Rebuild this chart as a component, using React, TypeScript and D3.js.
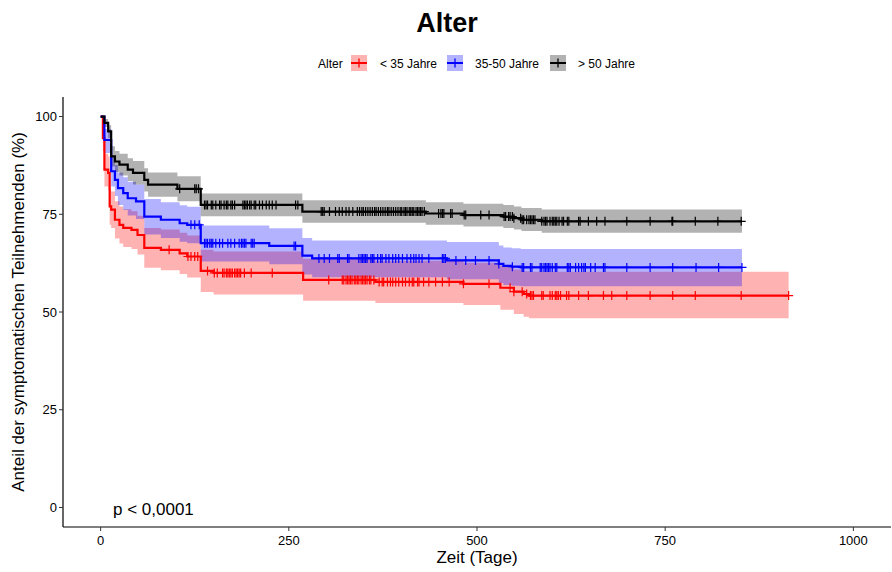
import React from 'react';
import * as d3 from 'd3';

// Kaplan-Meier estimates (time in days, survival in %)
const groups = ['< 35 Jahre', '35-50 Jahre', '> 50 Jahre'];
const colors = ['#FF0000', '#0000FF', '#000000'];

const redTimes = [0, 3, 5, 10, 12, 14, 19, 25, 30, 41, 49, 58, 80, 105, 115, 133, 150, 269, 365, 482, 531, 549, 562, 569];
const redSurv = [100, 94.5, 86.4, 85.6, 77, 76.2, 73.6, 72.3, 71.5, 71, 69.7, 66.4, 65.9, 65, 64.2, 60.5, 60, 58.2, 57.7, 57.2, 56.2, 55.2, 54.6, 54.2];
const redUpper = [100, 97.5, 90.5, 89.8, 81.5, 80.8, 78.3, 77, 76.3, 75.8, 74.6, 71.5, 71.1, 70.3, 69.6, 65.9, 65.5, 63.6, 63.1, 62.6, 61.8, 60.9, 60.4, 60.3];
const redLower = [100, 91.2, 82.1, 81.2, 72.3, 71.5, 68.8, 67.5, 66.6, 66.1, 64.7, 61.3, 60.7, 59.7, 58.8, 55.1, 54.5, 52.9, 52.3, 51.8, 50.6, 49.5, 48.8, 48.4];
const redEnd = 914;
const redCensor = [91, 116, 120, 125, 129, 142, 151, 155, 162, 164, 167, 169, 171, 173, 175, 178, 180, 182, 184, 186, 191, 200, 228,
  303, 321, 323, 326, 328, 330, 332, 334, 337, 339, 341, 343, 346, 348, 350, 352, 354, 357, 359, 363, 370, 374, 376, 381, 385, 388, 392, 396, 401, 405,
  410, 414, 416, 421, 423, 429, 436, 445, 454, 463, 482, 516,
  544, 549, 560, 566, 571, 573, 575, 586, 588, 597, 600, 604, 606, 608, 611, 619, 622, 635, 648, 668, 679, 699, 730, 760, 790, 851, 914];

const blueTimes = [0, 5, 14, 19, 23, 30, 36, 47, 58, 80, 105, 115, 133, 224, 268, 281, 460, 529, 535, 546, 558];
const blueSurv = [100, 94, 86, 83.8, 81.7, 80.4, 79.1, 78.3, 74.4, 73.6, 72.7, 72.3, 67.6, 66.9, 64.4, 63.7, 63.2, 62.3, 61.8, 61.6, 61.4];
const blueUpper = [100, 96.8, 89.6, 87.6, 85.7, 84.5, 83.3, 82.6, 78.9, 78.1, 77.3, 76.9, 72.1, 71.4, 68.9, 68.3, 67.9, 67, 66.5, 66.3, 66.1];
const blueLower = [100, 90.7, 82.1, 79.7, 77.4, 76.1, 74.7, 73.8, 69.8, 68.9, 68, 67.6, 62.9, 62.2, 59.6, 58.9, 58.4, 57.4, 56.9, 56.7, 56.6];
const blueEnd = 852;
const blueCensor = [120, 125, 131, 138, 140, 142, 145, 147, 149, 153, 158, 162, 169, 173, 178, 184, 187, 189, 191, 193, 200, 202, 204, 257, 259,
  290, 297, 304, 315, 317, 328, 330, 343, 346, 348, 350, 352, 354, 359, 361, 363, 368, 372, 374, 379, 383, 388, 392, 396, 401,
  407, 412, 416, 419, 423, 427, 436, 454, 456, 458, 472, 485, 498, 516, 529,
  547, 560, 562, 571, 573, 584, 586, 589, 591, 593, 595, 597, 600, 604, 606, 620, 622, 624, 631, 635, 639, 642, 644, 651, 657, 668, 670, 699,
  730, 760, 791, 821, 852];

const blackTimes = [0, 5, 10, 14, 19, 25, 36, 43, 58, 63, 102, 133, 268, 432, 482, 535, 549, 559, 586];
const blackSurv = [100, 98.4, 96.2, 89.8, 88.5, 87.7, 86.4, 85.6, 83.8, 82.6, 81.5, 77.4, 75.7, 75.2, 74.8, 74.4, 74, 73.6, 73.2];
const blackUpper = [100, 99.4, 97.8, 92.4, 91.2, 90.5, 89.3, 88.6, 86.8, 85.7, 84.7, 80.3, 78.6, 78.1, 77.7, 77.4, 77, 76.6, 76.2];
const blackLower = [100, 97.3, 94.5, 87.2, 85.8, 84.9, 83.5, 82.6, 80.8, 79.5, 78.3, 74.5, 72.8, 72.3, 71.9, 71.5, 71.1, 70.7, 70.3];
const blackEnd = 852;
const blackCensor = [105, 125, 127, 130, 138, 140, 142, 147, 149, 153, 158, 160, 164, 167, 169, 173, 175, 178, 189, 191, 193, 195, 198, 200,
  204, 206, 211, 215, 220, 224, 228, 233, 259, 262,
  293, 295, 297, 304, 312, 317, 321, 326, 330, 335, 341, 344, 347, 349, 352, 355, 358, 361, 364, 366, 369, 372, 375, 378, 381, 383, 386, 389, 392, 395, 398, 400, 403,
  405, 407, 410, 412, 414, 416, 419, 421, 423, 425, 427, 430, 449, 452, 454, 456, 465, 467, 483, 485, 505, 516, 536, 538, 542, 544,
  547, 549, 558, 560, 562, 566, 569, 571, 573, 575, 577, 586, 589, 591, 593, 597, 600, 602, 604, 606, 609, 613, 615, 620, 622, 635, 637, 648, 659, 670, 699,
  730, 759, 760, 790, 820, 851];

const xTicks = [0, 250, 500, 750, 1000];
const yTicks = [0, 25, 50, 75, 100];

const W = 892;
const H = 572;
const FONT = "'Liberation Sans', Arial, Helvetica, sans-serif";

type Pt = { t: number; s: number; lo: number; hi: number };

const series = [
  { times: redTimes, surv: redSurv, lower: redLower, upper: redUpper, end: redEnd, censor: redCensor },
  { times: blueTimes, surv: blueSurv, lower: blueLower, upper: blueUpper, end: blueEnd, censor: blueCensor },
  { times: blackTimes, surv: blackSurv, lower: blackLower, upper: blackUpper, end: blackEnd, censor: blackCensor },
];

// value of the step function at time t
const survAt = (times: number[], surv: number[], t: number) => {
  const i = d3.bisectRight(times, t) - 1;
  return surv[Math.max(0, i)];
};

export default function App() {
  const x = d3.scaleLinear().domain([-50, 1050]).range([63, 891]);
  const y = d3.scaleLinear().domain([-5, 105]).range([527, 97]);

  const line = d3.line<Pt>().x(d => x(d.t)).y(d => y(d.s)).curve(d3.curveStepAfter);
  const area = d3.area<Pt>().x(d => x(d.t)).y0(d => y(d.lo)).y1(d => y(d.hi)).curve(d3.curveStepAfter);

  const pts = series.map(g => {
    const p: Pt[] = g.times.map((t, i) => ({ t, s: g.surv[i], lo: g.lower[i], hi: g.upper[i] }));
    const last = p[p.length - 1];
    p.push({ ...last, t: g.end });
    return p;
  });

  const legendX = [351, 447, 550];
  const legendLabelX = [380, 475, 578];

  return (
    <svg width={W} height={H} style={{ position: 'absolute', left: 0, top: 0, background: '#fff' }} fontFamily={FONT}>
      {/* title */}
      <text x={447} y={32} textAnchor="middle" fontSize={27} fontWeight="bold">Alter</text>

      {/* legend */}
      <text x={318} y={68} fontSize={12}>Alter</text>
      {groups.map((g, i) => (
        <g key={g}>
          <rect x={legendX[i]} y={55} width={16} height={16} fill={colors[i]} fillOpacity={0.3} />
          <line x1={legendX[i]} x2={legendX[i] + 16} y1={63} y2={63} stroke={colors[i]} strokeWidth={2} />
          <line x1={legendX[i] + 8} x2={legendX[i] + 8} y1={58.5} y2={67.5} stroke={colors[i]} strokeWidth={1.3} />
          <text x={legendLabelX[i]} y={68} fontSize={12}>{g}</text>
        </g>
      ))}

      {/* confidence bands */}
      {pts.map((p, i) => (
        <path key={'b' + i} d={area(p) || ''} fill={colors[i]} fillOpacity={0.3} stroke="none" />
      ))}

      {/* survival curves */}
      {pts.map((p, i) => (
        <path key={'l' + i} d={line(p) || ''} fill="none" stroke={colors[i]} strokeWidth={2.2} />
      ))}

      {/* censor marks */}
      {series.map((g, i) => (
        <g key={'c' + i} stroke={colors[i]} strokeWidth={1.2}>
          {g.censor.map((t, j) => {
            const cx = x(t);
            const cy = y(survAt(g.times, g.surv, t));
            return (
              <path key={j} d={`M${cx - 4.5},${cy}H${cx + 4.5}M${cx},${cy - 4.5}V${cy + 4.5}`} />
            );
          })}
        </g>
      ))}

      {/* axes */}
      <line x1={63} x2={891} y1={527} y2={527} stroke="#000" strokeWidth={1.2} />
      <line x1={63} x2={63} y1={97} y2={527} stroke="#000" strokeWidth={1.2} />
      {xTicks.map(t => (
        <g key={'x' + t}>
          <line x1={x(t)} x2={x(t)} y1={527} y2={531} stroke="#333" strokeWidth={1} />
          <text x={x(t)} y={545} textAnchor="middle" fontSize={13} fill="#000">{t}</text>
        </g>
      ))}
      {yTicks.map(t => (
        <g key={'y' + t}>
          <line x1={59} x2={63} y1={y(t)} y2={y(t)} stroke="#333" strokeWidth={1} />
          <text x={57} y={y(t) + 4.5} textAnchor="end" fontSize={13} fill="#000">{t}</text>
        </g>
      ))}

      <text x={477} y={563} textAnchor="middle" fontSize={17}>Zeit (Tage)</text>
      <text transform={`translate(24,${(97 + 527) / 2}) rotate(-90)`} textAnchor="middle" fontSize={17}>
        Anteil der symptomatischen Teilnehmenden (%)
      </text>

      <text x={113} y={515} fontSize={17}>p &lt; 0,0001</text>
    </svg>
  );
}
